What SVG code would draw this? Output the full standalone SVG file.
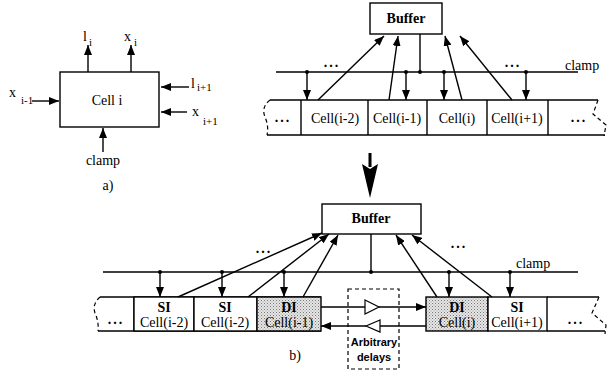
<svg xmlns="http://www.w3.org/2000/svg" width="613" height="373" viewBox="0 0 613 373">
<style>
.ln{stroke:#000;stroke-width:1.4;fill:none}
.bx{stroke:#000;stroke-width:1.4;fill:#fff}
.sh{stroke:#000;stroke-width:1.4;fill:url(#dots)}
.ds{stroke:#000;stroke-width:1.2;fill:none;stroke-dasharray:4 3}
.ar{stroke:#000;stroke-width:1.4;fill:none;marker-end:url(#ah)}
text{font-family:'Liberation Serif','Times New Roman','DejaVu Serif',serif;fill:#000}
.t{font-size:14px}
.tb{font-size:14px;font-weight:bold}
.sub{font-size:11px}
.dd{font-size:14px;font-weight:bold;letter-spacing:2px}
text.sa{font-family:'Liberation Sans',Arial,sans-serif;font-size:11px;font-weight:bold}
</style>
<defs>
<marker id="ah" markerUnits="userSpaceOnUse" markerWidth="10" markerHeight="8" refX="10" refY="4" orient="auto">
<path d="M0,0 L10,4 L0,8 Z" fill="#000"/>
</marker>
<pattern id="dots" width="3" height="3" patternUnits="userSpaceOnUse">
<rect width="3" height="3" fill="#e6e6e6"/>
<rect width="1" height="1" fill="#777"/>
<rect x="1.5" y="1.5" width="1" height="1" fill="#999"/>
</pattern>
</defs>

<!-- a) -->
<g id="cell-i">
<rect class="bx" x="60" y="72" width="99" height="55"/>
<text class="t" x="107" y="105" text-anchor="middle">Cell i</text>
</g>
<g id="labels-a">
<text class="t" x="83" y="41">l</text><text class="sub" x="89" y="46">i</text>
<text class="t" x="124" y="41">x</text><text class="sub" x="134" y="46">i</text>
<text class="t" x="9" y="97">x</text><text class="sub" x="21" y="104">i-1</text>
<text class="t" x="191" y="88">l</text><text class="sub" x="197" y="91">i+1</text>
<text class="t" x="192" y="116">x</text><text class="sub" x="203" y="125">i+1</text>
<text class="t" x="103" y="165" text-anchor="middle">clamp</text>
<text class="t" x="108" y="190" text-anchor="middle">a)</text>
</g>
<g id="connectors-a">
<line class="ar" x1="88" y1="72" x2="88" y2="45"/>
<line class="ar" x1="131" y1="72" x2="131" y2="45"/>
<line class="ar" x1="32" y1="101" x2="59" y2="101"/>
<line class="ar" x1="189" y1="87" x2="161" y2="87"/>
<line class="ar" x1="187" y1="112" x2="161" y2="112"/>
<line class="ar" x1="103" y1="152" x2="103" y2="128"/>
</g>

<!-- top right -->
<g id="buffer-top">
<rect class="bx" x="370" y="3" width="72" height="31"/>
<text class="tb" x="406" y="23" text-anchor="middle" font-size="13">Buffer</text>
</g>
<g id="strip-top">
<line class="ln" x1="270" y1="100" x2="598" y2="100"/>
<line class="ln" x1="267" y1="135" x2="605" y2="135"/>
<path class="ds" d="M270,100 Q261,107 265,117 Q269,126 267,135"/>
<path class="ds" d="M598,100 L593,114 L606,125 L604,136"/>
<line class="ln" x1="301" y1="100" x2="301" y2="135"/>
<line class="ln" x1="368" y1="100" x2="368" y2="135"/>
<line class="ln" x1="427" y1="100" x2="427" y2="135"/>
<line class="ln" x1="487" y1="100" x2="487" y2="135"/>
<line class="ln" x1="548" y1="100" x2="548" y2="135"/>
<text class="dd" x="283" y="122" text-anchor="middle">...</text>
<text class="dd" x="579" y="122" text-anchor="middle">...</text>
</g>
<g id="cell-top-i-2"><text class="t" x="335" y="123" text-anchor="middle">Cell(i-2)</text></g>
<g id="cell-top-i-1"><text class="t" x="397" y="123" text-anchor="middle">Cell(i-1)</text></g>
<g id="cell-top-i"><text class="t" x="457" y="123" text-anchor="middle">Cell(i)</text></g>
<g id="cell-top-i+1"><text class="t" x="517" y="123" text-anchor="middle">Cell(i+1)</text></g>
<g id="clamp-top">
<line class="ln" x1="276" y1="72" x2="578" y2="72"/>
<text class="t" x="565" y="70">clamp</text>
<text class="dd" x="332" y="67" text-anchor="middle">...</text>
<text class="dd" x="513" y="67" text-anchor="middle">...</text>
</g>
<g id="connectors-top">
<line class="ln" x1="420" y1="34" x2="420" y2="72"/>
<circle cx="307" cy="72" r="2"/><circle cx="406" cy="72" r="2"/><circle cx="420" cy="72" r="2"/><circle cx="444" cy="72" r="2"/><circle cx="526" cy="72" r="2"/>
<line class="ar" x1="307" y1="72" x2="307" y2="100"/>
<line class="ar" x1="406" y1="72" x2="406" y2="100"/>
<line class="ar" x1="444" y1="72" x2="444" y2="100"/>
<line class="ar" x1="526" y1="72" x2="526" y2="100"/>
<line class="ar" x1="318" y1="100" x2="384" y2="36"/>
<line class="ar" x1="389" y1="100" x2="398" y2="36"/>
<line class="ar" x1="462" y1="100" x2="445" y2="36"/>
<line class="ar" x1="512" y1="100" x2="460" y2="36"/>
</g>

<!-- big arrow -->
<g id="big-arrow">
<rect x="368.5" y="153" width="3" height="14" fill="#000"/>
<path d="M370,198 L362,164 L370,169 L378,164 Z" fill="#000"/>
</g>

<!-- bottom -->
<g id="buffer-bottom">
<rect class="bx" x="322" y="204" width="99" height="30"/>
<text class="tb" x="371" y="223" text-anchor="middle" font-size="13">Buffer</text>
</g>
<g id="strip-left">
<line class="ln" x1="100" y1="297" x2="321" y2="297"/>
<line class="ln" x1="98" y1="331" x2="321" y2="331"/>
<path class="ds" d="M100,297 Q92,304 95,313 Q99,322 98,331"/>
<line class="ln" x1="134" y1="297" x2="134" y2="331"/>
<text class="dd" x="116" y="324" text-anchor="middle">...</text>
</g>
<g id="cell-si-1">
<rect class="bx" x="134" y="297" width="60" height="34"/>
<text class="tb" x="164" y="312" text-anchor="middle">SI</text>
<text class="t" x="164" y="327" text-anchor="middle">Cell(i-2)</text>
</g>
<g id="cell-si-2">
<rect class="bx" x="194" y="297" width="63" height="34"/>
<text class="tb" x="225" y="312" text-anchor="middle">SI</text>
<text class="t" x="225" y="327" text-anchor="middle">Cell(i-2)</text>
</g>
<g id="cell-di-1">
<rect class="sh" x="257" y="297" width="64" height="34"/>
<text class="tb" x="289" y="312" text-anchor="middle">DI</text>
<text class="t" x="289" y="327" text-anchor="middle">Cell(i-1)</text>
</g>
<g id="cell-di-2">
<rect class="sh" x="426" y="297" width="62" height="34"/>
<text class="tb" x="457" y="312" text-anchor="middle">DI</text>
<text class="t" x="457" y="327" text-anchor="middle">Cell(i)</text>
</g>
<g id="cell-si-3">
<rect class="bx" x="488" y="297" width="59" height="34"/>
<text class="tb" x="517" y="312" text-anchor="middle">SI</text>
<text class="t" x="517" y="327" text-anchor="middle">Cell(i+1)</text>
</g>
<g id="strip-right">
<line class="ln" x1="547" y1="297" x2="599" y2="297"/>
<line class="ln" x1="547" y1="331" x2="605" y2="331"/>
<path class="ds" d="M599,297 L592,313 L606,325 L605,334"/>
<text class="dd" x="576" y="324" text-anchor="middle">...</text>
</g>
<g id="delays">
<rect class="ds" x="348" y="289" width="51" height="80"/>
<path d="M365,300 L379,307 L365,314 Z" fill="#fff" stroke="#000" stroke-width="1.2"/>
<path d="M380,320 L366,326 L380,332 Z" fill="#fff" stroke="#000" stroke-width="1.2"/>
<text class="sa" x="374" y="346" text-anchor="middle">Arbitrary</text>
<text class="sa" x="374" y="361" text-anchor="middle">delays</text>
</g>
<g id="clamp-bottom">
<line class="ln" x1="103" y1="272" x2="578" y2="272"/>
<text class="t" x="516" y="268">clamp</text>
<text class="dd" x="264" y="253" text-anchor="middle">...</text>
<text class="dd" x="459" y="248" text-anchor="middle">...</text>
<text class="t" x="295" y="360" text-anchor="middle">b)</text>
</g>
<g id="connectors-bottom">
<line class="ln" x1="371" y1="234" x2="371" y2="272"/>
<circle cx="160" cy="272" r="2"/><circle cx="222" cy="272" r="2"/><circle cx="284" cy="272" r="2"/><circle cx="371" cy="272" r="2"/><circle cx="449" cy="272" r="2"/><circle cx="510" cy="272" r="2"/>
<line class="ar" x1="160" y1="272" x2="160" y2="297"/>
<line class="ar" x1="222" y1="272" x2="222" y2="297"/>
<line class="ar" x1="284" y1="272" x2="284" y2="297"/>
<line class="ar" x1="449" y1="272" x2="449" y2="297"/>
<line class="ar" x1="510" y1="272" x2="510" y2="297"/>
<line class="ar" x1="178" y1="297" x2="322" y2="233"/>
<line class="ar" x1="248" y1="297" x2="329" y2="234"/>
<line class="ar" x1="303" y1="297" x2="338" y2="235"/>
<line class="ar" x1="437" y1="297" x2="396" y2="235"/>
<line class="ar" x1="492" y1="297" x2="412" y2="235"/>
<line class="ln" x1="321" y1="307" x2="365" y2="307"/>
<line class="ar" x1="379" y1="307" x2="426" y2="307"/>
<line class="ln" x1="426" y1="326" x2="380" y2="326"/>
<line class="ar" x1="366" y1="326" x2="321" y2="326"/>
</g>
</svg>
